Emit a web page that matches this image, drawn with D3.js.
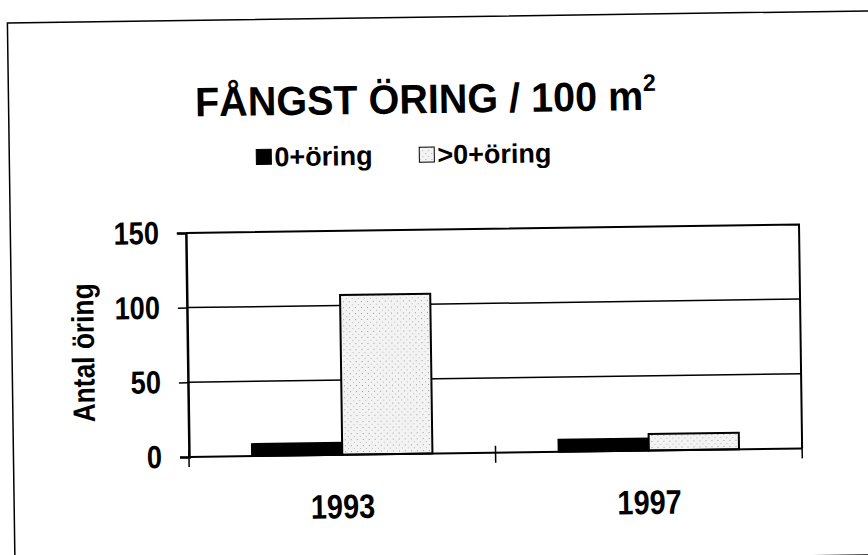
<!DOCTYPE html>
<html>
<head>
<meta charset="utf-8">
<script src="https://cdn.jsdelivr.net/npm/d3@7"></script>
<style>
    body { margin: 0; background: #ffffff; }
    text { font-family: "Liberation Sans", Arial, sans-serif; font-weight: bold; fill: #000; }
</style>
</head>
<body>
<div class="chartDiv"></div>
<script>
"use strict"

// data
var years = ["1993", "1997"];
var seriesNames = ["0+öring", ">0+öring"];
var youngTrout = [8, 8];      // 0+öring
var olderTrout = [107, 11];   // >0+öring
var yTicks = [0, 50, 100, 150];
var gridValues = [50, 100];

var titleText = "FÅNGST ÖRING / 100 m";
var yTitle = "Antal öring";

var width = 868;
var height = 555;
var plot = {left: 186.5, right: 799.7, top: 229.5, bottom: 453.5};
var squeeze = 0.85;   // scanned lettering is a bit narrow

var svgContainer = d3.select(".chartDiv").append("svg")
                        .attr("width", width)
                        .attr("height", height)
                        .attr("viewBox", "0 0 " + width + " " + height);

// the scan is a little crooked, so tilt everything slightly
var gContainer = svgContainer.append("g")
                        .attr("transform", "rotate(-0.8, 434, 277)");

// dotted fill for the >0 series
var defs = svgContainer.append("defs");
var pattern = defs.append("pattern")
                    .attr("id", "dots")
                    .attr("patternUnits", "userSpaceOnUse")
                    .attr("width", 6)
                    .attr("height", 6);
pattern.append("rect").attr("width", 6).attr("height", 6).attr("fill", "#f3f3f3");
pattern.append("rect").attr("x", 0).attr("y", 0).attr("width", 1).attr("height", 1).attr("fill", "#9a9a9a");
pattern.append("rect").attr("x", 3).attr("y", 3).attr("width", 1).attr("height", 1).attr("fill", "#b8b8b8");

var seriesFill = ["#000000", "url(#dots)"];
var seriesData = [youngTrout, olderTrout];

// outer frame
gContainer.append("rect")
    .attr("x", 11)
    .attr("y", 17)
    .attr("width", 890)
    .attr("height", 544)
    .attr("fill", "none")
    .attr("stroke", "#000")
    .attr("stroke-width", 1.5);

var x0 = d3.scaleBand()
            .domain(years)
            .range([plot.left, plot.right])
            .padding(0);

var x1 = d3.scaleBand()
            .domain(seriesNames)
            .range([0, x0.bandwidth()])
            .paddingInner(0)
            .paddingOuter(0.7);

var y = d3.scaleLinear()
            .domain([0, 150])
            .range([plot.bottom, plot.top]);

// gridlines
gContainer.selectAll("gridLine")
    .data(gridValues)
    .enter()
    .append("line")
    .attr("x1", plot.left)
    .attr("x2", plot.right)
    .attr("y1", function(d) { return y(d) })
    .attr("y2", function(d) { return y(d) })
    .attr("stroke", "#000")
    .attr("stroke-width", 1.5);

// top + right border of plot area
gContainer.append("path")
    .attr("d", "M" + plot.left + "," + y(150) + "H" + plot.right + "V" + y(0))
    .attr("fill", "none")
    .attr("stroke", "#000")
    .attr("stroke-width", 2);

// bars
var groups = gContainer.selectAll("yearGroup")
                .data(years)
                .enter()
                .append("g")
                .attr("transform", function(d) { return "translate(" + x0(d) + ",0)" });

groups.each(function(year, i)
{
    d3.select(this).selectAll("bar")
        .data(seriesNames)
        .enter()
        .append("rect")
        .attr("x", function(s) { return x1(s) })
        .attr("y", function(s, j) { return y(seriesData[j][i]) })
        .attr("width", x1.bandwidth())
        .attr("height", function(s, j) { return y(0) - y(seriesData[j][i]) })
        .attr("fill", function(s, j) { return seriesFill[j] })
        .attr("stroke", "#000")
        .attr("stroke-width", 2);
});

// y axis
var yAxis = d3.axisLeft(y)
                .tickValues(yTicks)
                .tickSize(9);

var yAxisGroup = gContainer.append("g")
                    .attr("transform", "translate(" + plot.left + ",0)")
                    .call(yAxis);
yAxisGroup.select(".domain").attr("stroke", "#000").attr("stroke-width", 2.5);
yAxisGroup.selectAll(".tick line").attr("stroke-width", 1.5);
yAxisGroup.selectAll(".tick text")
    .attr("x", -27 / squeeze)
    .attr("transform", "scale(" + squeeze + ",1)")
    .attr("font-size", 32)
    .attr("font-family", "Liberation Sans, Arial, sans-serif")
    .attr("font-weight", "bold")
    .attr("fill", "#000");

// x axis line with ticks between the categories
gContainer.append("line")
    .attr("x1", plot.left)
    .attr("x2", plot.right)
    .attr("y1", y(0))
    .attr("y2", y(0))
    .attr("stroke", "#000")
    .attr("stroke-width", 2);

var boundaries = [x0.range()[0], x0(years[1]), x0.range()[1]];
gContainer.selectAll("xTick")
    .data(boundaries)
    .enter()
    .append("line")
    .attr("x1", function(d) { return d })
    .attr("x2", function(d) { return d })
    .attr("y1", y(0) - 7)
    .attr("y2", y(0) + 10)
    .attr("stroke", "#000")
    .attr("stroke-width", 1.5);

gContainer.selectAll("xLabel")
    .data(years)
    .enter()
    .append("text")
    .text(function(d) { return d })
    .attr("transform", function(d) { return "translate(" + (x0(d) + x0.bandwidth() / 2) + ",517) scale(" + squeeze + ",1)" })
    .attr("text-anchor", "middle")
    .attr("font-size", 34);

// axis title
gContainer.append("text")
    .text(yTitle)
    .attr("transform", "translate(93,348) rotate(-90) scale(" + squeeze + ",1)")
    .attr("text-anchor", "middle")
    .attr("font-size", 31);

// chart title with superscript
var title = gContainer.append("text")
                .attr("transform", "translate(428,113) scale(0.965,1)")
                .attr("text-anchor", "middle")
                .attr("font-size", 41);
title.append("tspan").text(titleText);
title.append("tspan").text("2").attr("font-size", 24).attr("dy", -19);

// legend
var legendX = [258, 421];
var legend = gContainer.selectAll("legendItem")
                .data(seriesNames)
                .enter()
                .append("g")
                .attr("transform", function(d, i) { return "translate(" + legendX[i] + ",147)" });

legend.append("rect")
    .attr("width", 15)
    .attr("height", 15)
    .attr("fill", function(d, i) { return seriesFill[i] })
    .attr("stroke", "#000")
    .attr("stroke-width", 1);

legend.append("text")
    .text(function(d) { return d })
    .attr("x", 18)
    .attr("y", 17)
    .attr("font-size", 27);
</script>
</body>
</html>
